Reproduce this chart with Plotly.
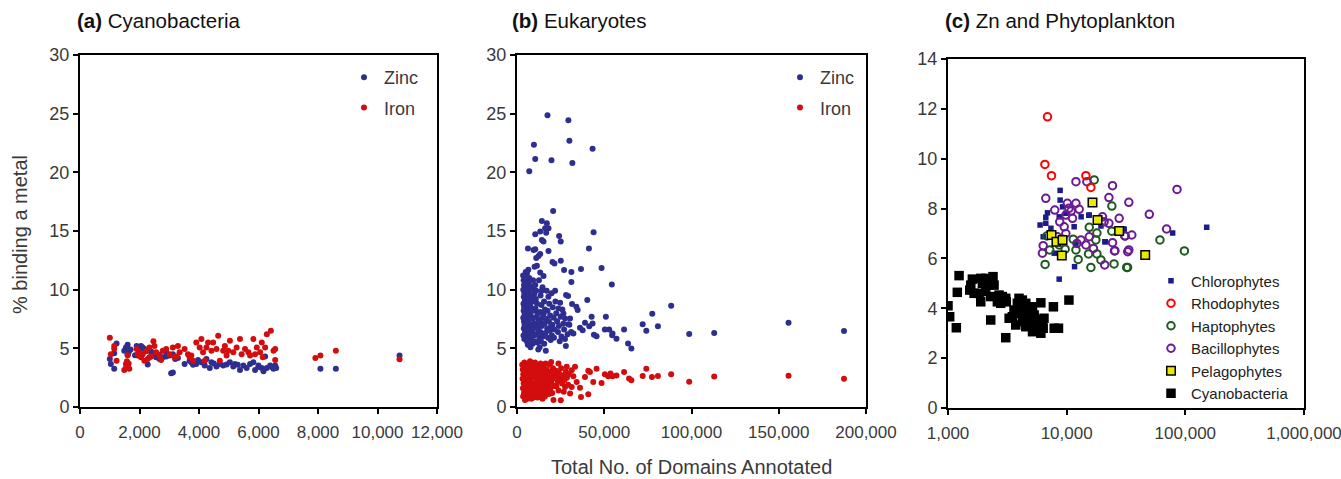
import plotly.graph_objects as go

# ---------------- Panel (a) Cyanobacteria ----------------
a_zinc_x = [1003, 1037, 1150, 1150, 1229, 1488, 1544, 1600, 1634, 1600, 1904, 2051, 2163, 1938, 2276,
            2445, 2276, 2670, 2783, 2896, 3009, 3122, 3065, 3122, 3291, 3516, 3685, 3742, 3910, 3967,
            4080, 4193, 4249, 4362, 4418, 4588, 4700, 4813, 4926, 5039, 5152, 5208, 5377, 5490, 5603,
            5716, 5829, 5885, 5998, 6110, 6167, 6223, 6280, 6392, 6505, 6561, 6595, 8081, 8600, 10741,
            1995, 2107, 2333, 2558, 2670, 1700, 1850, 2400, 2900, 3200, 3800, 4500, 5300, 6000, 6450]
a_zinc_y = [4.10, 3.67, 3.25, 4.58, 5.42, 4.80, 5.08, 5.30, 4.66, 4.46, 5.20, 5.20, 4.94, 4.38, 4.80,
            4.50, 3.62, 4.46, 4.24, 4.66, 4.38, 4.50, 2.88, 2.94, 4.18, 3.67, 3.95, 3.81, 3.67, 4.00,
            3.81, 3.53, 4.10, 3.33, 3.81, 3.45, 3.67, 3.53, 3.62, 3.81, 3.45, 3.67, 3.16, 3.53, 3.33,
            3.67, 3.81, 3.16, 3.53, 3.33, 3.05, 4.30, 3.33, 3.53, 3.25, 3.53, 3.33, 3.25, 3.25, 4.38,
            4.80, 5.08, 4.24, 4.24, 4.10, 4.90, 4.40, 4.70, 4.30, 4.10, 3.60, 3.70, 3.60, 3.40, 3.40]

a_iron_x = [1003, 1037, 1150, 1150, 1229, 1488, 1544, 1600, 1634, 1544, 1657, 1578, 1600,
            1904, 1995, 2107, 2220, 2333, 2468, 2502, 2558, 2670, 2276, 2051, 1938, 2783, 2896, 3009,
            3122, 3291, 3178, 3516, 3685, 3798, 3910, 4023, 4080, 4193, 4305, 4418, 4475, 4588, 4644,
            4700, 4870, 4983, 5039, 5152, 5265, 5377, 5434, 5547, 5660, 5829, 5885, 5941, 6054, 6110,
            6223, 6280, 6415, 6505, 6561, 6561, 6144, 5716, 7912, 8081, 8600, 10741,
            2163, 2389, 2727, 3235, 3348, 3629, 3742, 4136, 4249, 4813, 4926]
a_iron_y = [5.90, 4.50, 5.20, 4.97, 3.95, 3.16, 3.33, 3.50, 3.70, 3.67, 3.25, 3.90, 4.40,
            4.94, 4.66, 4.50, 4.75, 5.08, 5.60, 5.20, 4.66, 4.38, 4.10, 4.24, 4.50, 4.80, 4.94, 4.50,
            5.08, 5.20, 4.24, 4.94, 4.24, 3.95, 5.50, 5.08, 5.80, 3.95, 5.50, 4.80, 5.50, 4.94, 6.07,
            3.95, 5.20, 4.80, 5.65, 4.66, 5.08, 5.80, 4.50, 4.94, 4.66, 5.80, 4.50, 5.08, 4.66, 5.50,
            5.08, 6.20, 6.50, 4.80, 4.94, 4.00, 4.24, 4.38, 4.18, 4.38, 4.80, 4.07,
            3.95, 4.30, 4.00, 4.30, 4.66, 4.50, 4.38, 4.66, 5.08, 4.80, 4.38]

# ---------------- Panel (b) Eukaryotes ----------------
b_zinc_x = [17480, 29450, 9690, 30020, 43320, 10450, 19760, 7030, 31730,
            20710, 14250, 17100, 18050, 16150, 13300, 16720, 10450, 14250, 15200, 24130, 25080, 43890,
            6270, 9500, 10450, 41230, 18050, 13300, 12350, 11020, 20330, 21470, 25080, 11400, 10070,
            36670, 48450, 26980, 31160, 13300, 5700, 15200, 31160, 54340, 6270,
            28120, 29260, 31540, 34770, 34010, 40280, 21850, 24700, 23750, 26600, 27550, 30400, 29450,
            32300, 36100, 37620, 38950, 42750, 43320, 41420, 44080, 45600, 50920, 50350, 52820, 54720,
            54530, 57000, 61370, 63650, 65550, 77520, 72010, 74100, 80750, 88350, 98680, 113000,
            155600, 187400,
            3500, 3800, 4000, 3600, 4200, 3900, 4500, 3700, 4100, 3800, 4400, 3600, 4000, 4300, 3900,
            4600, 3700, 4200, 5000, 5200, 5500, 5100, 5800, 5300, 5600, 5000, 5900, 5400, 5100, 5700,
            5200, 5500, 6000, 5300, 5800, 5100, 5600, 6200,
            6500, 7000, 6800, 7500, 6400, 7200, 8000, 6700, 7600, 8300, 6900, 7800, 8500, 6600, 7400,
            8200, 7000, 8800, 7300, 8100, 9000, 7700, 9200, 9500, 9800, 9300, 9700, 9100, 9900, 9400,
            9600, 10000, 8600, 8900,
            10500, 11000, 10800, 11500, 10600, 12000, 11200, 12500, 10900, 11800, 12300, 11100, 12800,
            11600, 13000, 13500, 14000, 13200, 14500, 13800, 14200, 13400, 14800, 13700, 12600, 14100,
            12200, 14600,
            15500, 16000, 15200, 16800, 15800, 17300, 16300, 17800, 15600, 17000, 18000, 18500, 17500,
            19000, 18300, 19500, 18800, 20000, 19300, 20500, 21000, 20300, 21500, 16500, 19800, 21200,
            22500, 23000, 24000, 23500, 25000, 25500, 26500, 27000, 28000, 29000, 30000, 24500, 31000,
            26000, 22000, 27500]
b_zinc_y = [24.86, 24.43, 22.35, 22.69, 22.00, 21.13, 21.04, 20.10, 20.80,
            16.71, 15.86, 15.66, 15.23, 15.23, 14.95, 14.86, 14.72, 14.24, 14.10, 14.58, 14.10, 14.90,
            13.50, 13.38, 13.44, 13.50, 13.30, 13.04, 12.87, 12.70, 12.36, 12.24, 12.47, 12.04, 11.96,
            11.76, 11.85, 11.67, 11.50, 11.47, 11.39, 11.16, 10.65, 10.45, 10.96,
            9.54, 9.45, 8.77, 8.26, 8.54, 9.11, 9.91, 8.88, 8.40, 7.97, 7.55, 7.55, 7.06,
            6.26, 6.75, 6.55, 7.18, 7.69, 7.12, 6.89, 6.15, 6.04, 7.69, 6.60, 6.60, 6.26,
            6.12, 5.81, 6.60, 5.41, 4.98, 7.94, 7.06, 6.49, 6.89, 8.63, 6.22, 6.30,
            7.17, 6.48,
            11.2, 10.8, 10.4, 10.0, 9.7, 9.4, 9.1, 8.8, 8.5, 8.2, 7.9, 7.6, 7.3, 7.0, 6.7,
            6.4, 6.1, 5.8, 11.5, 11.0, 10.6, 10.2, 9.9, 9.5, 9.2, 8.9, 8.6, 8.3, 8.0, 7.7,
            7.4, 7.1, 6.8, 6.5, 6.2, 5.9, 5.6, 5.3,
            11.7, 11.0, 10.5, 10.1, 9.8, 9.5, 9.2, 8.9, 8.6, 8.4, 8.1, 7.8, 7.6, 7.3, 7.0,
            6.8, 6.5, 6.3, 6.0, 5.7, 5.4, 5.1, 10.8, 10.3, 9.6, 9.0, 8.2, 7.5, 7.1, 6.7,
            6.1, 5.6, 10.0, 9.4,
            10.4, 9.9, 9.2, 8.8, 8.4, 8.0, 7.7, 7.4, 7.1, 6.8, 6.5, 6.2, 5.9,
            5.5, 5.1, 9.5, 8.7, 8.1, 7.6, 7.2, 6.9, 6.4, 6.0, 5.6, 10.8, 9.9,
            4.9, 10.2,
            9.0, 8.3, 7.9, 7.5, 7.1, 6.7, 6.3, 5.9, 5.4, 9.9, 9.4, 8.8, 8.2,
            7.8, 7.3, 6.9, 6.5, 6.1, 5.7, 8.5, 7.6, 7.0, 6.6, 4.8, 9.7, 5.9,
            8.0, 7.3, 6.9, 6.4, 7.7, 6.0, 7.1, 6.6, 5.2, 6.2, 7.0, 5.6, 6.4,
            8.3, 9.0, 5.8]

b_iron_x = [3000, 3300, 3600, 3200, 3800, 3400, 4000, 3500, 4200, 4500, 4100, 4700, 4300, 4900, 4400,
            5000, 4600, 5300, 5600, 5200, 5800, 5400, 6000, 5500, 5900, 5100, 5700,
            6300, 6700, 6200, 6900, 6500, 7200, 6400, 7000, 7500, 7800, 7300, 8100, 7600, 8400, 7900,
            8700, 8200, 9000, 9300, 8800, 9600, 9100, 9900, 9400, 8500, 9700, 6800, 7400,
            10300, 10800, 10500, 11200, 10700, 11500, 10900, 11800, 12200, 12600, 12000, 12900, 12400,
            13200, 12700, 13500, 13900, 13300, 14200, 13700, 14500, 14000, 14800, 14600, 11300, 12100,
            15300, 15800, 15200, 16200, 15600, 16600, 16000, 17000, 17500, 16800, 17900, 17300, 18400,
            18800, 19200, 18600, 19700, 19100, 20200, 20600, 21000, 20400, 21400, 20900, 19570, 16400,
            22300, 22800, 23400, 22600, 24000, 24600, 23800, 25300, 25800, 26500, 27200, 26800, 28000,
            28600, 29300, 29800, 23750, 25080, 27550, 30400, 31350, 28500, 31350, 32300, 33250, 34200,
            36100, 36670, 38950, 40850, 41800, 40850, 43700, 45600, 48450, 50350, 52250, 53580, 54720,
            57000, 61370, 64220, 65550, 72010, 74100, 77330, 80750, 88350, 98680, 113000, 155600, 187400]
b_iron_y = [3.6, 3.2, 2.8, 2.4, 2.0, 1.6, 1.2, 0.9, 3.8, 3.4, 3.0, 2.6, 2.2, 1.8, 1.4,
            1.0, 0.6, 3.5, 3.1, 2.7, 2.3, 1.9, 1.5, 1.1, 0.7, 2.9, 2.1,
            3.7, 3.3, 2.9, 2.5, 2.1, 1.7, 1.3, 0.9, 3.9, 3.5, 3.1, 2.7, 2.3, 1.9, 1.5,
            1.1, 0.7, 3.6, 3.0, 2.5, 2.0, 1.6, 1.2, 0.8, 3.2, 2.8, 1.9, 2.6,
            3.8, 3.3, 2.9, 2.4, 2.0, 1.6, 1.2, 0.8, 3.5, 3.0, 2.6, 2.2, 1.8,
            1.4, 1.0, 3.7, 3.1, 2.7, 2.3, 1.9, 1.5, 1.1, 2.8, 0.7, 3.1, 2.0,
            3.4, 2.9, 2.5, 2.1, 1.7, 1.3, 0.9, 3.2, 2.7, 2.3, 1.9, 1.5, 1.1,
            3.6, 3.0, 2.5, 2.1, 1.6, 1.2, 3.3, 2.8, 2.4, 1.8, 0.6, 3.84, 3.7,
            3.1, 2.6, 2.2, 1.8, 2.9, 2.4, 1.4, 3.3, 2.0, 2.7, 2.3, 1.3, 3.0,
            2.5, 1.9, 2.8, 3.7, 0.57, 1.71, 1.14, 1.71, 3.42, 3.13, 2.62, 3.42, 2.14,
            1.65, 0.85, 2.56, 3.08, 2.99, 1.08, 2.14, 3.27, 2.05, 2.79, 2.62, 2.85, 2.62,
            2.68, 2.99, 2.42, 2.28, 2.65, 3.27, 2.56, 2.65, 2.79, 2.16, 2.59, 2.67, 2.41]

# ---------------- Panel (c) Zn and Phytoplankton ----------------
chloro_x = [8810, 8810, 6890, 6670, 5970, 6670, 7370, 6340, 9840, 11560, 13240, 15370, 19440, 29990,
            20990, 11970, 7860, 8650, 9230, 151400, 78200, 30550, 21140, 15500, 8650, 11650]
chloro_y = [8.73, 8.34, 7.83, 7.65, 7.34, 7.41, 7.21, 6.87, 7.81, 7.27, 7.67, 7.73, 7.30, 7.18,
            6.67, 6.57, 6.21, 7.67, 8.07, 7.25, 7.02, 7.17, 6.67, 7.74, 5.17, 5.67]
rhodo_x = [6890, 6550, 7450, 14520, 16000]
rhodo_y = [11.68, 9.77, 9.32, 9.32, 8.85]
hapto_x = [17060, 24040, 15500, 17990, 24000, 6810, 9230, 17620, 11350, 8650, 9710, 7200, 11970,
           15290, 17990, 19440, 12500, 6580, 16000, 25070, 32040, 61100, 98200, 32600]
hapto_y = [9.15, 8.10, 7.25, 7.02, 7.09, 6.90, 6.77, 6.74, 6.77, 6.54, 6.37, 6.34, 6.34,
           6.18, 6.18, 5.94, 5.96, 5.76, 5.64, 5.78, 5.64, 6.74, 6.30, 5.64]
bacil_x = [6670, 11970, 14800, 24350, 22700, 33400, 49700, 7940, 10130, 10460, 11970, 12750, 9840,
           11200, 8740, 9530, 20030, 20700, 27700, 22700, 9840, 8360, 13190, 14520, 15500, 24350,
           31150, 35400, 33400, 25500, 6250, 6340, 85100, 69500, 30860, 25300, 32700, 20900, 12200,
           16800, 10900]
bacil_y = [8.41, 9.08, 9.08, 8.92, 8.44, 8.25, 7.77, 7.94, 8.21, 8.01, 8.21, 7.97, 7.74,
           7.61, 7.47, 7.27, 7.67, 7.47, 7.61, 7.41, 7.00, 6.87, 6.74, 6.54, 6.87, 6.63,
           6.90, 6.94, 6.34, 6.31, 6.21, 6.51, 8.77, 7.18, 6.90, 6.30, 6.27, 5.74, 6.60,
           6.40, 7.90]
pelago_x = [7450, 8200, 9230, 9100, 16500, 18200, 27700, 45900]
pelago_y = [6.94, 6.67, 6.74, 6.12, 8.24, 7.54, 7.10, 6.14]
cyano_x = [1239, 1000, 1033, 1175, 1198, 1604, 1556, 1524, 1658, 1888, 2080, 2396, 1948, 2216, 2444,
           1888, 1827, 2080, 2290, 2692, 2869, 3067, 2780, 2606, 3100, 2290, 3067, 3484, 3600, 3967,
           3840, 4095, 4230, 3967, 4374, 4230, 4523, 4676, 4835, 5154, 4997, 5325, 5505, 5325, 5680,
           5870, 6060, 6265, 6340, 6060, 6440, 7730, 7850, 8530, 10450, 4835, 3722, 4523, 5154, 4230,
           3275]
cyano_y = [5.31, 4.10, 3.66, 3.22, 4.64, 5.17, 4.93, 4.73, 4.60, 5.20, 5.20, 5.27, 5.00, 4.93, 4.93,
           4.26, 4.60, 4.67, 4.47, 4.53, 4.47, 4.40, 4.20, 4.26, 4.26, 3.53, 2.82, 3.66, 3.93, 4.40,
           4.20, 4.13, 4.00, 3.80, 3.80, 3.46, 4.20, 3.93, 3.66, 4.06, 3.40, 3.73, 3.53, 3.20, 3.13,
           3.33, 3.00, 3.46, 3.20, 4.22, 3.60, 4.06, 3.20, 3.20, 4.33, 3.33, 3.33, 3.26, 3.06, 4.33,
           3.60]

x3_tickvals = [1000, 10000, 100000, 1000000]
x3_ticktext = ["1,000", "10,000", "100,000", "1,000,000"]

ZINC = "#2e2e91"
IRON = "#d30d0d"
FONT = "Liberation Sans"
TXT = "#3a3a3a"

W, H = 1341, 479
def px_x(p):
    return p / W
def px_y(p):
    return (H - p) / H

fig = go.Figure()

def dot(x, y, name, color, xa, ya, legend):
    fig.add_trace(go.Scatter(x=x, y=y, mode="markers", name=name, xaxis=xa, yaxis=ya,
                             legend=legend, legendgroup=legend + name,
                             marker=dict(color=color, size=6, line=dict(width=0))))

dot(a_zinc_x, a_zinc_y, "Zinc", ZINC, "x", "y", "legend")
dot(a_iron_x, a_iron_y, "Iron", IRON, "x", "y", "legend")
dot(b_zinc_x, b_zinc_y, "Zinc", ZINC, "x2", "y2", "legend2")
dot(b_iron_x, b_iron_y, "Iron", IRON, "x2", "y2", "legend2")

def c_trace(x, y, name, symbol, size, color, lcolor, lw):
    fig.add_trace(go.Scatter(x=x, y=y, mode="markers", name=name, xaxis="x3", yaxis="y3",
                             legend="legend3", legendgroup=name,
                             marker=dict(symbol=symbol, size=size, color=color,
                                         line=dict(color=lcolor, width=lw))))

c_trace(cyano_x, cyano_y, "Cyanobacteria", "square", 9.5, "black", "black", 0)
c_trace(chloro_x, chloro_y, "Chlorophytes", "square", 5.5, "#1b1b8a", "#1b1b8a", 0)
c_trace(hapto_x, hapto_y, "Haptophytes", "circle-open", 7.5, "#1d5a1d", "#1d5a1d", 2)
c_trace(bacil_x, bacil_y, "Bacillophytes", "circle-open", 7.5, "#6b1a92", "#6b1a92", 2)
c_trace(rhodo_x, rhodo_y, "Rhodophytes", "circle-open", 7.5, "#ff0000", "#ff0000", 2)
c_trace(pelago_x, pelago_y, "Pelagophytes", "square", 8.5, "#e8e800", "black", 1.5)

axis_common = dict(showgrid=False, zeroline=False, showline=True, linecolor="black", linewidth=2,
                   mirror=True, ticks="outside", ticklen=5, tickwidth=2, tickcolor="black",
                   automargin=False, ticklabeloverflow="allow")
xfont = dict(family=FONT, size=17, color=TXT)
yfont = dict(family=FONT, size=18, color=TXT)

yb, yt = px_y(407), px_y(55)
fig.update_layout(
    template="none",
    width=W, height=H, margin=dict(l=0, r=0, t=0, b=0, autoexpand=False),
    paper_bgcolor="white", plot_bgcolor="white",
    xaxis=dict(domain=[px_x(80), px_x(437)], range=[0, 12000], dtick=2000, tickformat=",",
               anchor="y", tickfont=xfont, ticklabelstandoff=4, **axis_common),
    yaxis=dict(domain=[yb, yt], range=[0, 30], dtick=5, anchor="x", tickfont=yfont, **axis_common),
    xaxis2=dict(domain=[px_x(517), px_x(866)], range=[0, 200000], dtick=50000, tickformat=",",
                anchor="y2", tickfont=xfont, ticklabelstandoff=4, **axis_common),
    yaxis2=dict(domain=[yb, yt], range=[0, 30], dtick=5, anchor="x2", tickfont=yfont, **axis_common),
    xaxis3=dict(domain=[px_x(948), px_x(1304)], type="log", range=[2.9999, 6.0001],
                tickmode="array", tickvals=x3_tickvals, ticktext=x3_ticktext, anchor="y3",
                tickfont=xfont, ticklabelstandoff=4, **axis_common),
    yaxis3=dict(domain=[px_y(408), px_y(59)], range=[0, 14], dtick=2, anchor="x3", tickfont=yfont,
                **axis_common),
    legend=dict(x=px_x(344), y=px_y(59), xanchor="left", yanchor="top", bgcolor="rgba(0,0,0,0)",
                font=dict(family=FONT, size=18, color=TXT), traceorder="grouped",
                tracegroupgap=4, itemwidth=30),
    legend2=dict(x=px_x(780), y=px_y(59), xanchor="left", yanchor="top", bgcolor="rgba(0,0,0,0)",
                 font=dict(family=FONT, size=18, color=TXT), traceorder="grouped",
                 tracegroupgap=4, itemwidth=30),
    legend3=dict(x=px_x(1151), y=px_y(264.5), xanchor="left", yanchor="top", bgcolor="rgba(0,0,0,0)",
                 font=dict(family=FONT, size=15, color="#222"), traceorder="grouped",
                 tracegroupgap=0, itemwidth=30),
    showlegend=True,
)

order = ["Chlorophytes", "Rhodophytes", "Haptophytes", "Bacillophytes", "Pelagophytes", "Cyanobacteria"]
for tr in fig.data:
    if tr.legend == "legend3":
        tr.legendrank = order.index(tr.name) + 1
    elif tr.name == "Zinc":
        tr.legendrank = 1
    else:
        tr.legendrank = 2

titles = [(75, "<b>(a)</b> Cyanobacteria"), (510, "<b>(b)</b> Eukaryotes"),
          (943, "<b>(c)</b> Zn and Phytoplankton")]
for xp, t in titles:
    fig.add_annotation(text=t, xref="paper", yref="paper", x=px_x(xp), y=px_y(21),
                       xanchor="left", yanchor="middle", showarrow=False,
                       font=dict(family=FONT, size=20.5, color="#111"))

fig.add_annotation(text="% binding a metal", xref="paper", yref="paper", x=px_x(20), y=px_y(235),
                   textangle=-90, xanchor="center", yanchor="middle", showarrow=False,
                   font=dict(family=FONT, size=20, color=TXT))
fig.add_annotation(text="Total No. of Domains Annotated", xref="paper", yref="paper",
                   x=px_x(691), y=px_y(467), xanchor="center", yanchor="middle", showarrow=False,
                   font=dict(family=FONT, size=20, color=TXT))

fig.write_html("out.html")
